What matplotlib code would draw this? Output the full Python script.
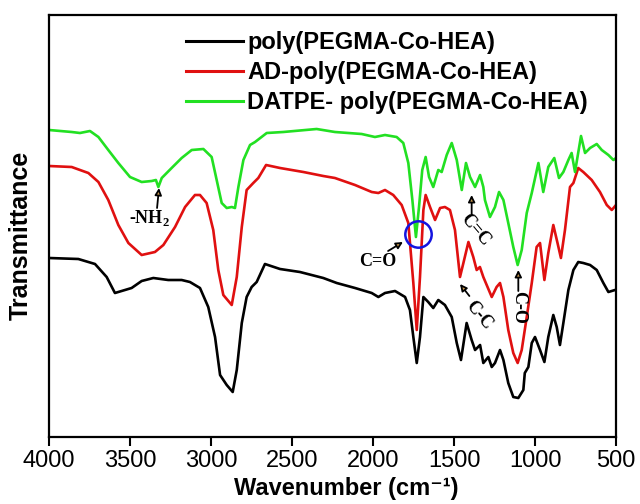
import matplotlib
matplotlib.use("Agg")
import matplotlib.pyplot as plt

plt.rcParams["font.family"] = ["Liberation Sans", "DejaVu Sans"]

# ---- data (wavenumber, transmittance a.u.) ----
wn_black = [4000, 3819, 3716, 3644, 3593, 3531, 3490, 3428, 3356, 3264, 3181, 3130, 3068, 3017,
            2975, 2944, 2903, 2866, 2841, 2810, 2780, 2749, 2718, 2667, 2574, 2451, 2307, 2224,
            2111, 2008, 1967, 1926, 1864, 1802, 1772, 1751, 1730, 1710, 1689, 1659, 1628, 1597,
            1556, 1514, 1483, 1457, 1422, 1391, 1370, 1339, 1319, 1288, 1267, 1247, 1216, 1195,
            1165, 1134, 1103, 1072, 1063, 1041, 1020, 1000, 969, 942, 918, 887, 866, 846, 825, 794,
            763, 733, 702, 660, 619, 578, 547, 506, 500]
t_black = [179, 178, 173, 160, 144, 147, 149, 156, 159, 157, 157, 155, 149, 130,
           100, 62, 52, 45, 67, 114, 140, 150, 155, 173, 168, 165, 159, 154,
           149, 144, 140, 144, 146, 140, 127, 100, 74, 100, 140, 135, 129, 137,
           132, 120, 94, 77, 114, 97, 87, 92, 74, 80, 70, 74, 87, 77,
           54, 40, 39, 47, 64, 70, 94, 100, 87, 75, 100, 122, 110, 92, 114, 147,
           167, 175, 174, 172, 167, 154, 145, 147, 147]

wn_red = [4000, 3860, 3757, 3695, 3634, 3572, 3510, 3428, 3346, 3294, 3222, 3160, 3099, 3068,
          3027, 2986, 2955, 2924, 2872, 2841, 2810, 2780, 2739, 2708, 2660, 2574, 2430, 2307,
          2235, 2111, 2008, 1967, 1926, 1875, 1823, 1782, 1751, 1730, 1710, 1689, 1675, 1648,
          1617, 1586, 1556, 1525, 1494, 1463, 1442, 1411, 1381, 1360, 1340, 1319, 1267, 1237,
          1216, 1195, 1165, 1134, 1107, 1082, 1051, 1020, 990, 969, 942, 918, 887, 861, 840,
          815, 784, 763, 733, 702, 650, 599, 557, 526, 500]
t_red = [271, 270, 264, 255, 237, 212, 194, 182, 185, 192, 210, 230, 242, 242,
         234, 207, 167, 142, 132, 160, 210, 247, 254, 259, 272, 269, 265, 261,
         259, 252, 245, 244, 247, 242, 232, 214, 154, 107, 160, 227, 242, 230,
         217, 229, 230, 227, 207, 160, 174, 195, 180, 167, 170, 160, 140, 150,
         154, 140, 107, 84, 74, 87, 120, 154, 190, 194, 157, 184, 212, 194, 179,
         207, 250, 254, 269, 265, 257, 245, 232, 227, 232]

wn_green = [4000, 3860, 3809, 3747, 3695, 3634, 3572, 3500, 3428, 3366, 3340, 3325, 3304, 3243,
            3181, 3119, 3047, 2996, 2965, 2934, 2903, 2872, 2852, 2831, 2800, 2759, 2728, 2656,
            2554, 2348, 2235, 2070, 1988, 1926, 1854, 1813, 1782, 1757, 1735, 1716, 1696, 1675,
            1654, 1628, 1597, 1576, 1545, 1514, 1483, 1452, 1426, 1401, 1370, 1339, 1319, 1309,
            1278, 1247, 1222, 1195, 1165, 1134, 1107, 1082, 1051, 1020, 979, 949, 918, 881, 852,
            825, 794, 774, 753, 716, 691, 660, 619, 588, 547, 516, 500]
t_green = [307, 305, 304, 306, 300, 287, 274, 260, 255, 256, 257, 250, 259, 269,
           279, 287, 288, 280, 257, 234, 229, 230, 229, 250, 277, 292, 295, 304,
           305, 308, 305, 303, 300, 302, 300, 294, 274, 237, 200, 230, 267, 280,
           260, 250, 267, 265, 282, 294, 277, 247, 274, 260, 250, 262, 250, 237,
           220, 230, 245, 237, 214, 190, 172, 187, 224, 244, 274, 245, 270, 279, 259,
           265, 277, 284, 265, 301, 284, 289, 293, 287, 282, 277, 279]

labels = ["poly(PEGMA-Co-HEA)", "AD-poly(PEGMA-Co-HEA)", "DATPE- poly(PEGMA-Co-HEA)"]
xticks = [4000, 3500, 3000, 2500, 2000, 1500, 1000, 500]

# ---- figure ----
fig = plt.figure(figsize=(6.4, 5.04), dpi=100)
ax = fig.add_axes([49/640, 1-437/504, 567/640, 422/504])

lw = 1.9
ax.plot(wn_black, t_black, color="#000000", lw=lw, label=labels[0])
ax.plot(wn_red, t_red, color="#e01010", lw=lw, label=labels[1])
ax.plot(wn_green, t_green, color="#22e022", lw=lw, label=labels[2])

ax.set_xlim(4000, 500)
ax.set_ylim(0, 422)
ax.set_xticks(xticks)
ax.set_xticklabels([str(v) for v in xticks])
ax.set_yticks([])
for s in ax.spines.values():
    s.set_linewidth(1.6)
ax.tick_params(axis="x", direction="out", length=6.5, width=1.5, labelsize=17, pad=3)
ax.set_xlabel("Wavenumber (cm\u207b\u00b9)", fontsize=17, fontweight="bold")
ax.xaxis.set_label_coords((346 - 49) / 567, (437 - 477) / 422)
ax.set_ylabel("Transmittance", fontsize=18, fontweight="bold")
ax.yaxis.set_label_coords((33 - 49) / 567, (437 - 235) / 422)

leg = ax.legend(loc="upper left", bbox_to_anchor=(186/640, 1-31/504),
                bbox_transform=fig.transFigure, frameon=False,
                prop={"weight": "bold", "size": 17}, handlelength=2.4,
                handletextpad=0.2, labelspacing=0.3, borderpad=0, borderaxespad=0)
for l in leg.get_lines():
    l.set_linewidth(2.2)

# ---- annotations ----
serif = {"family": "Liberation Serif", "weight": "bold", "size": 13}
aprops = dict(arrowstyle="-|>", color="black", fc="#c89850", ec="black", lw=1.3,
              mutation_scale=10, shrinkA=0, shrinkB=0)

ax.annotate("", xy=(3321, 249), xytext=(3333, 229), arrowprops=aprops)
ax.text(3377, 219, "-NH$_\\mathregular{2}$", ha="center", va="center", fontdict=serif)

ax.annotate("", xy=(1815, 195), xytext=(1907, 186), arrowprops=aprops)
ax.text(1969, 175, "C=O", ha="center", va="center", fontdict=serif)
ax.plot([1722], [203], marker="o", ms=19, mfc="none", mec="#1414e0", mew=1.8)

ax.annotate("", xy=(1391, 242), xytext=(1391, 222), arrowprops=aprops)
ax.text(1369, 207, "C=C", ha="center", va="center", rotation=-50, fontdict=serif)

ax.annotate("", xy=(1463, 153), xytext=(1405, 141), arrowprops=aprops)
ax.text(1345, 122, "C-C", ha="center", va="center", rotation=-50, fontdict=serif)

ax.annotate("", xy=(1103, 167), xytext=(1103, 146), arrowprops=aprops)
ax.text(1103, 130, "C-O", ha="center", va="center", rotation=-90, fontdict=serif)

fig.savefig("out.png", dpi=100)
